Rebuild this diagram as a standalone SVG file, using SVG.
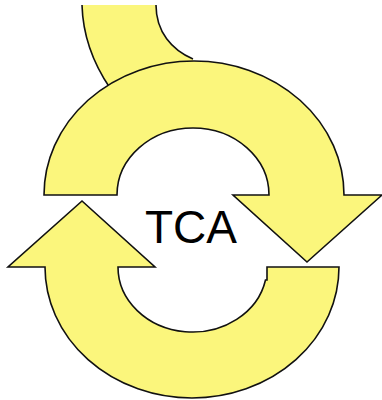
<svg xmlns="http://www.w3.org/2000/svg" width="382" height="400" viewBox="0 0 382 400">
<style>
.shape{fill:#FBF67C;stroke:#111;stroke-width:1.6;stroke-linejoin:miter}
.fillonly{fill:#FBF67C;stroke:none}
.edge{fill:none;stroke:#111;stroke-width:1.6}
.label{font-family:"Liberation Sans",Arial,sans-serif;font-size:46px;fill:#000}
</style>
<rect width="382" height="400" fill="#fff"/>
<g id="connectors">
<g id="stem">
<path class="fillonly" d="M82,5 C83,40 95,66 110,88 L195,75 L193,59 C172,50 156,32 156,5 Z"/>
<path class="edge" d="M82,5 C83,40 95,66 110,88"/>
<path class="edge" d="M193,59 C172,50 156,32 156,5"/>
</g>
<path id="upper-arrow" class="shape" d="M44,195 A150,134 0 0 1 344,195 L382,195 L307,262 L233,195 L269,195 A76,67 0 0 0 117,195 Z"/>
<path id="lower-arrow" class="shape" d="M339,267 A147,131 0 0 1 45,267 L8,267 L82,201 L155,267 L118,267 A74.5,65 0 0 0 265.5,280 L267,280 L267,267 Z"/>
</g>
<g id="node-tca">
<text class="label" x="145" y="243">TCA</text>
</g>
</svg>
